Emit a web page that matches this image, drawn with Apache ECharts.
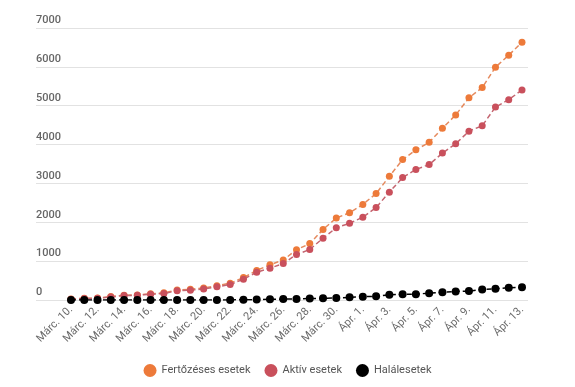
<!DOCTYPE html>
<html>
<head>
<meta charset="utf-8">
<script src="https://cdn.jsdelivr.net/npm/echarts@6/dist/echarts.min.js"></script>
<style>
html,body{margin:0;padding:0;background:#fff;}
#chart{width:575px;height:387px;}
</style>
</head>
<body>
<div id="chart"></div>
<script>
const categories = [
  'Márc. 10.','Márc. 11.','Márc. 12.','Márc. 13.','Márc. 14.','Márc. 15.','Márc. 16.','Márc. 17.','Márc. 18.','Márc. 19.',
  'Márc. 20.','Márc. 21.','Márc. 22.','Márc. 23.','Márc. 24.','Márc. 25.','Márc. 26.','Márc. 27.','Márc. 28.','Márc. 29.',
  'Márc. 30.','Márc. 31.','Ápr. 1.','Ápr. 2.','Ápr. 3.','Ápr. 4.','Ápr. 5.','Ápr. 6.','Ápr. 7.','Ápr. 8.',
  'Ápr. 9.','Ápr. 10.','Ápr. 11.','Ápr. 12.','Ápr. 13.'
];
const infected = [25,45,49,89,123,131,158,184,260,277,308,367,433,576,762,906,1029,1292,1452,1815,2109,2245,2460,2738,3183,3613,3864,4057,4417,4761,5202,5467,5990,6300,6633];
const active = [19,39,43,80,114,122,149,165,241,254,283,338,400,535,715,817,940,1170,1300,1590,1860,1975,2130,2380,2775,3150,3360,3485,3780,4020,4345,4485,4965,5155,5405];
const deaths = [0,0,0,0,0,0,0,0,0,0,0,0,2,7,11,17,23,26,37,43,52,69,85,94,133,146,151,176,197,220,229,270,291,316,326];
const yTicks = [0,1000,2000,3000,4000,5000,6000,7000];
const seriesNames = ['Fertőzéses esetek','Aktív esetek','Halálesetek'];

const chart = echarts.init(document.getElementById('chart'));
const font = 'Roboto, "Noto Sans", sans-serif';
const yMax = yTicks[yTicks.length-1];
chart.setOption({
  animation:false,
  textStyle:{fontFamily:font},
  grid:[
    {left:36,right:47,top:28,bottom:87},
    {left:71,right:53,top:28,bottom:87}
  ],
  xAxis:[
    {gridIndex:0,type:'value',show:false,min:0,max:1},
    {gridIndex:1,type:'category',data:categories,boundaryGap:false,
     axisLine:{show:false},axisTick:{show:false},
     axisLabel:{rotate:45,interval:1,color:'#6a6a6a',fontSize:11,margin:8,fontFamily:font}}
  ],
  yAxis:[
    {gridIndex:0,type:'value',min:0,max:yMax,interval:1000,
     axisLine:{show:false},axisTick:{show:false},
     splitLine:{lineStyle:{color:'#e2e2e2',width:1}},
     axisLabel:{inside:true,align:'left',verticalAlign:'bottom',margin:0,padding:[0,0,2,0],
       formatter:function(v){return String(v);},
       color:'#666',fontSize:11,fontWeight:500,fontFamily:font}},
    {gridIndex:1,type:'value',min:0,max:yMax,show:false,splitLine:{show:false}}
  ],
  legend:{
    bottom:5,left:'center',icon:'circle',itemWidth:13,itemHeight:13,itemGap:14,
    textStyle:{color:'#555',fontSize:11,fontFamily:font},
    data:seriesNames
  },
  series:[
    {name:seriesNames[0],type:'line',xAxisIndex:1,yAxisIndex:1,data:infected,
     symbol:'circle',symbolSize:7,color:'#ED7A3A',
     itemStyle:{color:'#ED7A3A'},lineStyle:{color:'#E58A5E',width:1.5,type:[5,3]},z:3},
    {name:seriesNames[1],type:'line',xAxisIndex:1,yAxisIndex:1,data:active,
     symbol:'circle',symbolSize:7,color:'#C9505C',
     itemStyle:{color:'#C9505C'},lineStyle:{color:'#C46570',width:1.5,type:[5,3]},z:4},
    {name:seriesNames[2],type:'line',xAxisIndex:1,yAxisIndex:1,data:deaths,
     symbol:'circle',symbolSize:8,color:'#000',
     itemStyle:{color:'#000'},lineStyle:{color:'#000',width:1.5,type:[5,3]},z:5}
  ]
});
</script>
</body>
</html>
